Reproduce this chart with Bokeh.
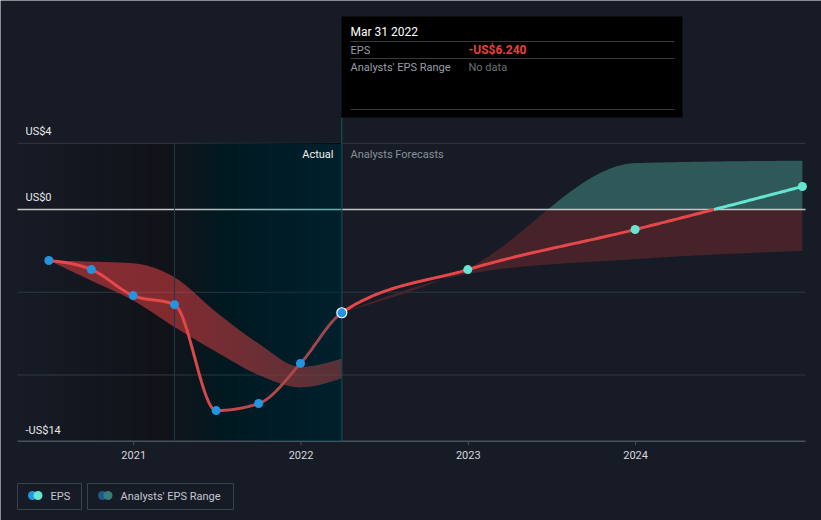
import numpy as np
from bokeh.plotting import figure
from bokeh.models import Range1d
from bokeh.embed import file_html
from bokeh.resources import INLINE
from bokeh.core.properties import value

# ---------------- data ----------------
eps_dates = [2020.493, 2020.747, 2020.997, 2021.244, 2021.493, 2021.747, 2021.997, 2022.244]
eps_values = [-3.08, -3.63, -5.20, -5.75, -12.15, -11.72, -9.30, -6.24]
fc_dates = [2022.997, 2023.997, 2024.997]
fc_values = [-3.63, -1.21, 1.39]
hist_range_dates = [2020.493, 2020.747, 2020.997, 2021.244, 2021.493, 2021.747, 2021.997, 2022.244]
hist_range_low = [-3.08, -4.3, -5.5, -7.1, -8.6, -10.0, -10.75, -10.2]
hist_range_high = [-3.08, -3.15, -3.25, -4.1, -6.2, -8.1, -9.5, -9.0]
fc_range_dates = [2022.244, 2022.997, 2023.997, 2024.997]
fc_range_low = [-6.24, -3.9, -3.0, -2.5]
fc_range_high = [-6.24, -3.55, 2.8, 2.95]
year_ticks = [2021, 2022, 2023, 2024]
year_labels = ["2021", "2022", "2023", "2024"]
y_label_values = [4, 0, -14]
y_labels = ["US$4", "US$0", "-US$14"]
grid_values = [4, -5, -10]
axis_bottom = -14
actual_start = 2021.244
actual_end = 2022.244

# ---------------- layout helpers (reference pixels -> data) ----------------
W, H = 821, 520
PXY = 167.3
X0REF = 133.2
PYU = 16.55
Y0REF = 209.0


def X(px):
    return 2021 + (px - X0REF) / PXY


def Y(py):
    return (Y0REF - py) / PYU


BG = "#161b26"
FONT = value("Roboto")


def monotone(xs, ys, n=60):
    xs = np.asarray(xs, float)
    ys = np.asarray(ys, float)
    h = np.diff(xs)
    s = np.diff(ys) / h
    m = np.zeros(len(xs))
    for i in range(1, len(xs) - 1):
        p_ = (s[i - 1] * h[i] + s[i] * h[i - 1]) / (h[i - 1] + h[i])
        m[i] = (np.sign(s[i - 1]) + np.sign(s[i])) * min(abs(s[i - 1]), abs(s[i]), 0.5 * abs(p_))
    m[0] = (3 * s[0] - m[1]) / 2 if len(xs) > 2 else s[0]
    m[-1] = (3 * s[-1] - m[-2]) / 2 if len(xs) > 2 else s[-1]
    ox, oy = [xs[0]], [ys[0]]
    for i in range(len(xs) - 1):
        t = np.linspace(0, 1, n)[1:]
        h00 = 2 * t**3 - 3 * t**2 + 1
        h10 = t**3 - 2 * t**2 + t
        h01 = -2 * t**3 + 3 * t**2
        h11 = t**3 - t**2
        yy = h00 * ys[i] + h10 * h[i] * m[i] + h01 * ys[i + 1] + h11 * h[i] * m[i + 1]
        ox.extend(xs[i] + t * h[i])
        oy.extend(yy)
    return np.array(ox), np.array(oy)


def lerp_col(c0, c1, f):
    return "#%02x%02x%02x" % tuple(int(round(a + (b - a) * f)) for a, b in zip(c0, c1))


p = figure(width=W, height=H, x_range=Range1d(X(0), X(W)), y_range=Range1d(Y(H), Y(0)),
           output_backend="svg", toolbar_location=None, min_border=0,
           x_axis_location=None, y_axis_location=None)
p.grid.visible = False
p.outline_line_color = None
p.background_fill_color = BG
p.border_fill_color = BG

# ---------------- background regions (stacked strips, no seams) ----------------
N = 40
left0 = X(17)
edges = np.linspace(left0, actual_start, N + 1)
p.quad(left=edges[:-1], right=[actual_start] * N, top=grid_values[0], bottom=axis_bottom,
       fill_color=[lerp_col((22, 27, 38), (16, 18, 23), (i + 0.5) / N) for i in range(N)], line_color=None)
edges2 = np.linspace(actual_start, actual_end, N + 1)
p.quad(left=edges2[:-1], right=[actual_end] * N, top=grid_values[0], bottom=axis_bottom,
       fill_color=[lerp_col((16, 21, 27), (9, 33, 45), (i + 0.5) / N) for i in range(N)], line_color=None)

# ---------------- grid ----------------
p.segment(x0=[X(17)] * len(grid_values), x1=[X(805)] * len(grid_values), y0=grid_values, y1=grid_values,
          line_color="#323843", line_width=1)
p.segment(x0=[X(17)], x1=[X(805)], y0=[axis_bottom], y1=[axis_bottom], line_color="#4a505c", line_width=1.5)
p.segment(x0=year_ticks, x1=year_ticks, y0=[axis_bottom] * 4, y1=[axis_bottom - 4 / PYU] * 4,
          line_color="#4a505c", line_width=1)

# ---------------- bands ----------------
hx, hl = monotone(hist_range_dates, hist_range_low)
_, hh = monotone(hist_range_dates, hist_range_high)
p.varea(x=hx, y1=hl, y2=hh, fill_color="#e04044", fill_alpha=0.55)

fx, fl = monotone(fc_range_dates, fc_range_low)
_, fh = monotone(fc_range_dates, fc_range_high)
p.varea(x=fx, y1=np.minimum(fl, 0), y2=np.minimum(fh, 0), fill_color="#462229", fill_alpha=1.0)
p.varea(x=fx, y1=np.maximum(fl, 0), y2=np.maximum(fh, 0), fill_color="#2f5858", fill_alpha=1.0)

# zero line
p.segment(x0=[X(17)], x1=[X(805)], y0=[0], y1=[0], line_color="#c4c6ca", line_width=1.6)

# ---------------- EPS line ----------------
all_x = eps_dates + fc_dates
all_y = eps_values + fc_values
lx, ly = monotone(all_x, all_y, n=80)
nx, ny = [lx[0]], [ly[0]]
for i in range(1, len(lx)):
    if (ly[i - 1] < 0) != (ly[i] < 0):
        f = -ly[i - 1] / (ly[i] - ly[i - 1])
        nx.append(lx[i - 1] + f * (lx[i] - lx[i - 1]))
        ny.append(0.0)
    nx.append(lx[i])
    ny.append(ly[i])
nx = np.array(nx)
ny = np.array(ny)
red_y = np.where(ny <= 0, ny, np.nan)
cyan_y = np.where(ny >= 0, ny, np.nan)
p.line(nx, red_y, line_color="#e5474b", line_width=3)
p.line(nx, cyan_y, line_color="#64e6d2", line_width=3)

# ---------------- highlight overlay (stacked, gradient alpha) ----------------
a_step = 1 - (1 - 0.26) ** (1.0 / N)
p.quad(left=edges2[:-1], right=[actual_end] * N, top=grid_values[0], bottom=axis_bottom,
       fill_color="#0a7a9e", fill_alpha=a_step, line_color=None)
p.segment(x0=[actual_start], x1=[actual_start], y0=[grid_values[0]], y1=[axis_bottom],
          line_color="#1a3a48", line_width=1)
p.segment(x0=[actual_end], x1=[actual_end], y0=[Y(117)], y1=[axis_bottom],
          line_color="#1b5868", line_width=1)

# ---------------- points ----------------
p.scatter(eps_dates[:-1], eps_values[:-1], size=9, fill_color="#2394e0", line_color=None)
p.scatter(fc_dates, fc_values, size=9, fill_color="#64e6d2", line_color=None)
p.scatter([eps_dates[-1]], [eps_values[-1]], size=10, fill_color="#2394e0", line_color="#ffffff", line_width=1.2)

# ---------------- axis labels ----------------
p.text(x=[X(25)] * 3, y=y_label_values, text=y_labels, y_offset=[-12, -12, -11],
       text_font=FONT, text_font_size="11px", text_color="#e8e8e8", text_baseline="middle", text_align="left")
p.text(x=year_ticks, y=[axis_bottom] * 4, text=year_labels, y_offset=[14] * 4,
       text_font=FONT, text_font_size="11px", text_color="#d6d8dc", text_baseline="middle", text_align="center")

p.text(x=[X(333)], y=[Y(154)], text=["Actual"], text_font=FONT, text_font_size="11px",
       text_color="#f0f0f0", text_baseline="middle", text_align="right")
p.text(x=[X(350)], y=[Y(154)], text=["Analysts Forecasts"], text_font=FONT, text_font_size="11px",
       text_color="#8a8f98", text_baseline="middle", text_align="left")

# ---------------- tooltip ----------------
p.quad(left=[X(341)], right=[X(682)], top=[Y(16)], bottom=[Y(117)], fill_color="#000000", line_color=None)
p.segment(x0=[X(350)] * 3, x1=[X(674)] * 3, y0=[Y(41), Y(58), Y(109)], y1=[Y(41), Y(58), Y(109)],
          line_color="#3a3a3a", line_width=1)
p.text(x=[X(350)], y=[Y(31)], text=["Mar 31 2022"], text_font=FONT, text_font_size="12px",
       text_color="#ffffff", text_baseline="middle", text_align="left")
p.text(x=[X(350), X(350)], y=[Y(49.5), Y(66.5)], text=["EPS", "Analysts' EPS Range"], text_font=FONT,
       text_font_size="11px", text_color="#9a9ea6", text_baseline="middle", text_align="left")
p.text(x=[X(468)], y=[Y(49.5)], text=["-US$6.240"], text_font=FONT, text_font_size="12px",
       text_color="#e8413c", text_baseline="middle", text_align="left", text_font_style="bold")
p.text(x=[X(468)], y=[Y(66.5)], text=["No data"], text_font=FONT, text_font_size="11px",
       text_color="#6e7178", text_baseline="middle", text_align="left")

# ---------------- legend ----------------
p.quad(left=[X(17), X(87)], right=[X(81), X(233)], top=[Y(483)] * 2, bottom=[Y(509)] * 2,
       fill_color=None, line_color="#3b414e", line_width=1)
p.scatter([X(32), X(102)], [Y(495)] * 2, size=9, fill_color=["#2394e0", "#1e5a86"], line_color=None)
p.scatter([X(37.5), X(107.5)], [Y(495)] * 2, size=9, fill_color=["#64e6d2", "#3a7d78"], line_color=None)
p.text(x=[X(50), X(120)], y=[Y(495.5)] * 2, text=["EPS", "Analysts' EPS Range"], text_font=FONT,
       text_font_size="11px", text_color="#c4c8d0", text_baseline="middle", text_align="left")

open("out.html", "w").write(file_html(p, INLINE))
